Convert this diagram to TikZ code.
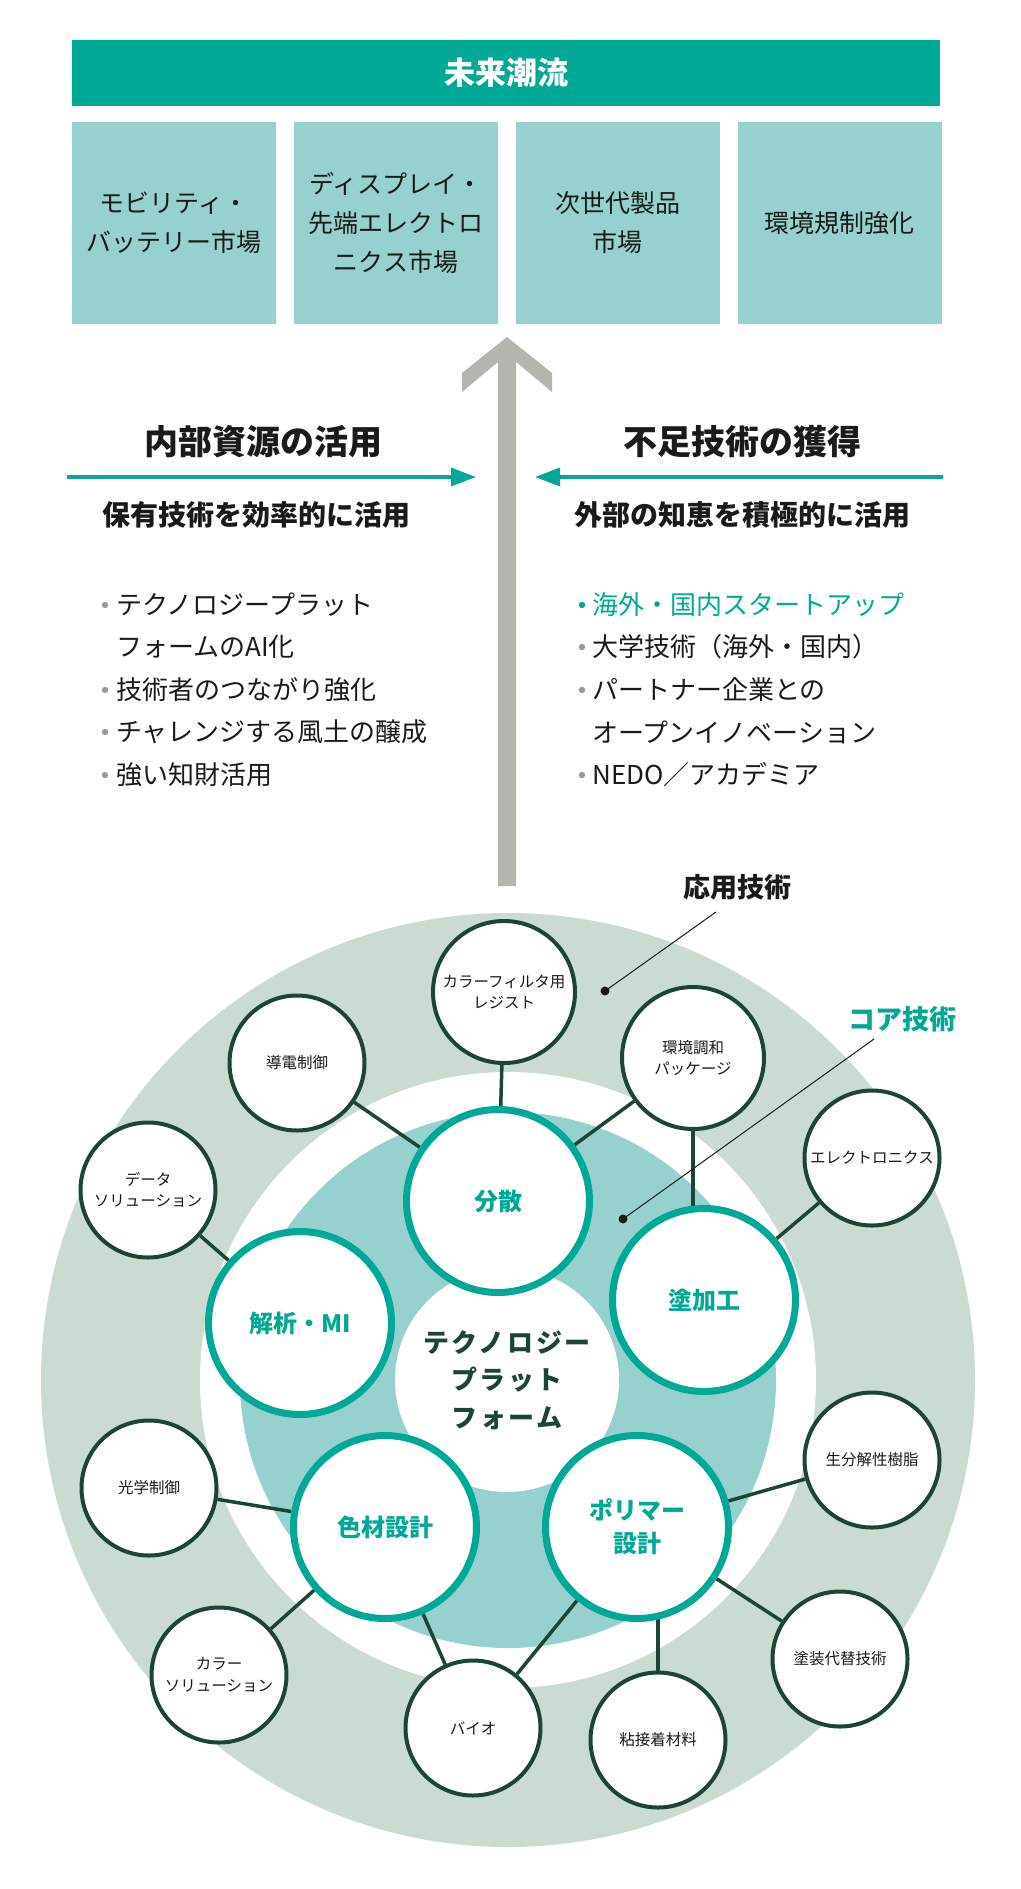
\documentclass[tikz,border=0pt]{standalone}
\usepackage{fontspec}
\setmainfont{Noto Sans CJK JP}
\newfontfamily\spacedfont{Noto Sans CJK JP}[LetterSpace=10]
\usetikzlibrary{arrows.meta,positioning}

\definecolor{mainteal}{HTML}{00A896}
\definecolor{paleteal}{HTML}{96D1CF}
\definecolor{bandgreen}{HTML}{CADCD2}
\definecolor{arrowgray}{HTML}{B5B5B0}
\definecolor{bulletgray}{HTML}{9A9A9A}
\definecolor{deepgreen}{HTML}{1C4536}
\definecolor{inkblack}{HTML}{1A1A1A}

\newcommand\pxfont[2]{\fontsize{#1pt}{#2pt}\selectfont}

\pgfdeclarelayer{back}
\pgfdeclarelayer{links}
\pgfsetlayers{back,links,main}

\begin{document}
\begin{tikzpicture}[
  x=1pt, y=-1pt,
  line join=round,
  trendbox/.style={fill=paleteal, minimum width=204pt, minimum height=202pt,
    inner sep=0pt, align=center, text=inkblack, font=\pxfont{25}{39}},
  headtext/.style={text=inkblack, font=\bfseries\pxfont{34}{40}},
  subtext/.style={text=inkblack, font=\bfseries\pxfont{28}{32}},
  itemtext/.style={anchor=west, inner sep=0pt, text=inkblack, font=\pxfont{26}{30}},
  sidearrow/.style={draw=mainteal, line width=3.5pt,
    -{Triangle[length=25pt,width=18pt]}},
  coretech/.style={circle, draw=mainteal, line width=7pt, fill=white,
    minimum size=183pt, inner sep=0pt, align=center, text=mainteal,
    font=\bfseries\pxfont{24}{33}},
  apptech/.style={circle, draw=deepgreen, line width=4pt, fill=white,
    minimum size=135pt, inner sep=0pt, align=center, text=inkblack,
    font=\pxfont{15.5}{21.5}},
  link/.style={draw=deepgreen, line width=3.5pt},
  leader/.style={draw=inkblack, line width=1pt},
  tagtext/.style={font=\bfseries\pxfont{27}{30}}
]
  \useasboundingbox (0,0) rectangle (1020,1889);

  % 上段
  \node[fill=mainteal, minimum width=868pt, minimum height=66pt, inner sep=0pt,
    text=white, font=\bfseries\pxfont{31}{34}] (trend) at (506,73) {未来潮流};
  \node[trendbox] (mobility) at (174,223) {モビリティ・\\バッテリー市場};
  \node[trendbox, right=17.5pt of mobility] (display) {ディスプレイ・\\先端エレクトロ\\ニクス市場};
  \node[trendbox, right=17.5pt of display] (nextgen) {次世代製品\\市場};
  \node[trendbox, right=17.5pt of nextgen] (regulation) {環境規制強化};

  % 矢印
  \fill[arrowgray] (507,337) -- (552,373) -- (552,392) -- (516,362) -- (516,886)
    -- (498,886) -- (498,362) -- (462,392) -- (462,373) -- cycle;

  \coordinate (inL) at (67,477);
  \coordinate (inR) at (476,477);
  \coordinate (exR) at (943,477);
  \coordinate (exL) at (535,477);
  \draw[sidearrow] (inL) -- (inR);
  \draw[sidearrow] (exR) -- (exL);

  % 左右の見出し
  \node[headtext] (internal) at (263,442) {内部資源の活用};
  \node[headtext] (external) at (742,442) {不足技術の獲得};
  \node[subtext] (owned) at (256,515) {保有技術を効率的に活用};
  \node[subtext] (wisdom) at (742,515) {外部の知恵を積極的に活用};

  % 箇条書き
  \fill[bulletgray] (105,605) circle (3.2);
  \fill[bulletgray] (105,690) circle (3.2);
  \fill[bulletgray] (105,732) circle (3.2);
  \fill[bulletgray] (105,775) circle (3.2);
  \node[itemtext] (inA) at (116,605) {テクノロジープラット};
  \node[itemtext] (inA2) at (116,647) {フォームのAI化};
  \node[itemtext] (inB) at (116,690) {技術者のつながり強化};
  \node[itemtext] (inC) at (116,732) {チャレンジする風土の醸成};
  \node[itemtext] (inD) at (116,775) {強い知財活用};

  \fill[mainteal] (582,605) circle (3.2);
  \fill[bulletgray] (582,647) circle (3.2);
  \fill[bulletgray] (582,690) circle (3.2);
  \fill[bulletgray] (582,775) circle (3.2);
  \node[itemtext, text=mainteal] (exA) at (592,605) {海外・国内スタートアップ};
  \node[itemtext] (exB) at (592,647) {大学技術（海外・国内）};
  \node[itemtext] (exC) at (592,690) {パートナー企業との};
  \node[itemtext] (exC2) at (592,732) {オープンイノベーション};
  \node[itemtext] (exD) at (592,775) {NEDO／アカデミア};

  % 同心円
  \begin{pgfonlayer}{back}
    \coordinate (O) at (508,1380);
    \fill[bandgreen] (O) circle (467);
    \fill[white] (O) circle (308);
    \fill[paleteal] (O) circle (268);
  \end{pgfonlayer}

  \node[circle, fill=white, minimum size=224pt, inner sep=0pt, align=center,
    text=deepgreen, font=\spacedfont\bfseries\pxfont{26}{37.5}] (platform)
    at (507,1380) {テクノロジー\\プラット\\フォーム};

  % コア技術
  \node[coretech] (dispersion) at (498,1201) {分散};
  \node[coretech] (coating) at (704,1300) {塗加工};
  \node[coretech] (analysis) at (300,1323) {解析・MI};
  \node[coretech] (colorant) at (385,1527) {色材設計};
  \node[coretech] (polymer) at (637,1527) {ポリマー\\設計};

  % 応用技術
  \node[apptech, minimum size=142pt] (filter) at (504,992) {カラーフィルタ用\\レジスト};
  \node[apptech] (conduct) at (297,1063) {導電制御};
  \node[apptech] (datasol) at (148,1190) {データ\\ソリューション};
  \node[apptech, minimum size=142pt] (package) at (693,1058) {環境調和\\パッケージ};
  \node[apptech] (electro) at (872,1158) {エレクトロニクス};
  \node[apptech] (optics) at (149,1488) {光学制御};
  \node[apptech] (colorsol) at (219,1675) {カラー\\ソリューション};
  \node[apptech] (bio) at (473,1728) {バイオ};
  \node[apptech] (adhesive) at (658,1740) {粘接着材料};
  \node[apptech] (paintalt) at (840,1659) {塗装代替技術};
  \node[apptech] (biodeg) at (872,1460) {生分解性樹脂};

  % つながり
  \begin{pgfonlayer}{links}
    \draw[link] (filter) -- (dispersion);
    \draw[link] (conduct) -- (dispersion);
    \draw[link] (package) -- (dispersion);
    \draw[link] (package) -- (package |- coating);
    \draw[link] (electro) -- (coating);
    \draw[link] (datasol) -- (analysis);
    \draw[link] (optics) -- (colorant);
    \draw[link] (colorsol) -- (colorant);
    \draw[link] (bio) -- (colorant);
    \draw[link] (bio) -- (polymer);
    \draw[link] (adhesive) -- (adhesive |- polymer);
    \draw[link] (paintalt) -- (polymer);
    \draw[link] (biodeg) -- (polymer);
  \end{pgfonlayer}

  % ラベル
  \node[tagtext, text=inkblack] (applied) at (737,887) {応用技術};
  \node[tagtext, text=mainteal] (core) at (902,1019) {コア技術};
  \coordinate (appliedfoot) at (716,912);
  \coordinate (appliedpin) at (605,991);
  \coordinate (corefoot) at (874,1039);
  \coordinate (corepin) at (623,1219);
  \draw[leader] (appliedfoot) -- (appliedpin);
  \draw[leader] (corefoot) -- (corepin);
  \fill[inkblack] (appliedpin) circle (4.5);
  \fill[inkblack] (corepin) circle (4.5);
\end{tikzpicture}
\end{document}
